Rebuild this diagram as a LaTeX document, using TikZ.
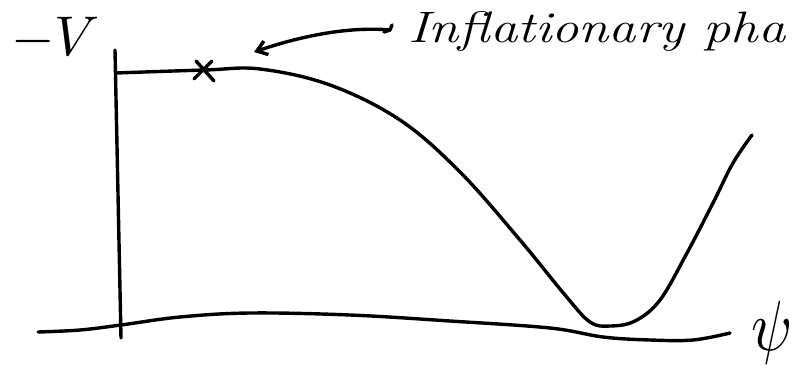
\documentclass[tikz,border=0pt]{standalone}
\usepackage{tikz}
\usetikzlibrary{arrows.meta,positioning,calc}

\begin{document}
\begin{tikzpicture}[
  x=1pt,y=-1pt,
  >={Straight Barb[length=3.5mm,width=5mm]},
  pen/.style={line width=3.4pt,line cap=round,line join=round},
  hand/.style={font=\fontsize{44}{48}\selectfont\itshape,inner sep=0pt},
  sym/.style={font=\normalsize,inner sep=0pt}
]
\useasboundingbox (0,0) rectangle (800,372);
% labels
\node[sym,anchor=base west,scale=5.6] (vlabel) at (10,55) {$-V$};
\node[sym,anchor=base west,xscale=6,yscale=7.1] (psi) at (750,350) {$\psi$};
\node[hand,anchor=base west,xscale=1.24] (phase) at (408,42) {Inflationary pha};
% axes
\coordinate (top) at (115,50);
\coordinate (foot) at (121,338);
\draw[pen] (top) -- (foot);
\draw[pen] plot[smooth,tension=0.6] coordinates {(38,332) (80,330) (121,325) (180,317) (250,313) (350,315)
  (450,321) (550,328) (603,337) (650,340) (693,340) (730,333)};
% potential
\draw[pen] plot[smooth,tension=0.6] coordinates {(116,73) (205,70) (260,69) (330,85) (400,120)
  (460,172) (520,240) (565,295) (590,322) (610,326) (635,321) (660,300)
  (687,253) (713,203) (733,163) (752,135)};
% marked point
\coordinate (cross) at (205,70);
\draw[pen] ($(cross)+(-9,-9)$) -- ($(cross)+(9,11)$)
           ($(cross)+(-11,9)$) -- ($(cross)+(7,-9)$);
% pointer
\coordinate (tail) at (390,30);
\coordinate (head) at (254,52);
\draw[pen,->] (tail) .. controls (345,26) and (295,38) .. (head);
\draw[pen] ($(tail)+(-6,2)$) -- (tail) -- ($(tail)+(2,-5)$);
\end{tikzpicture}
\end{document}
